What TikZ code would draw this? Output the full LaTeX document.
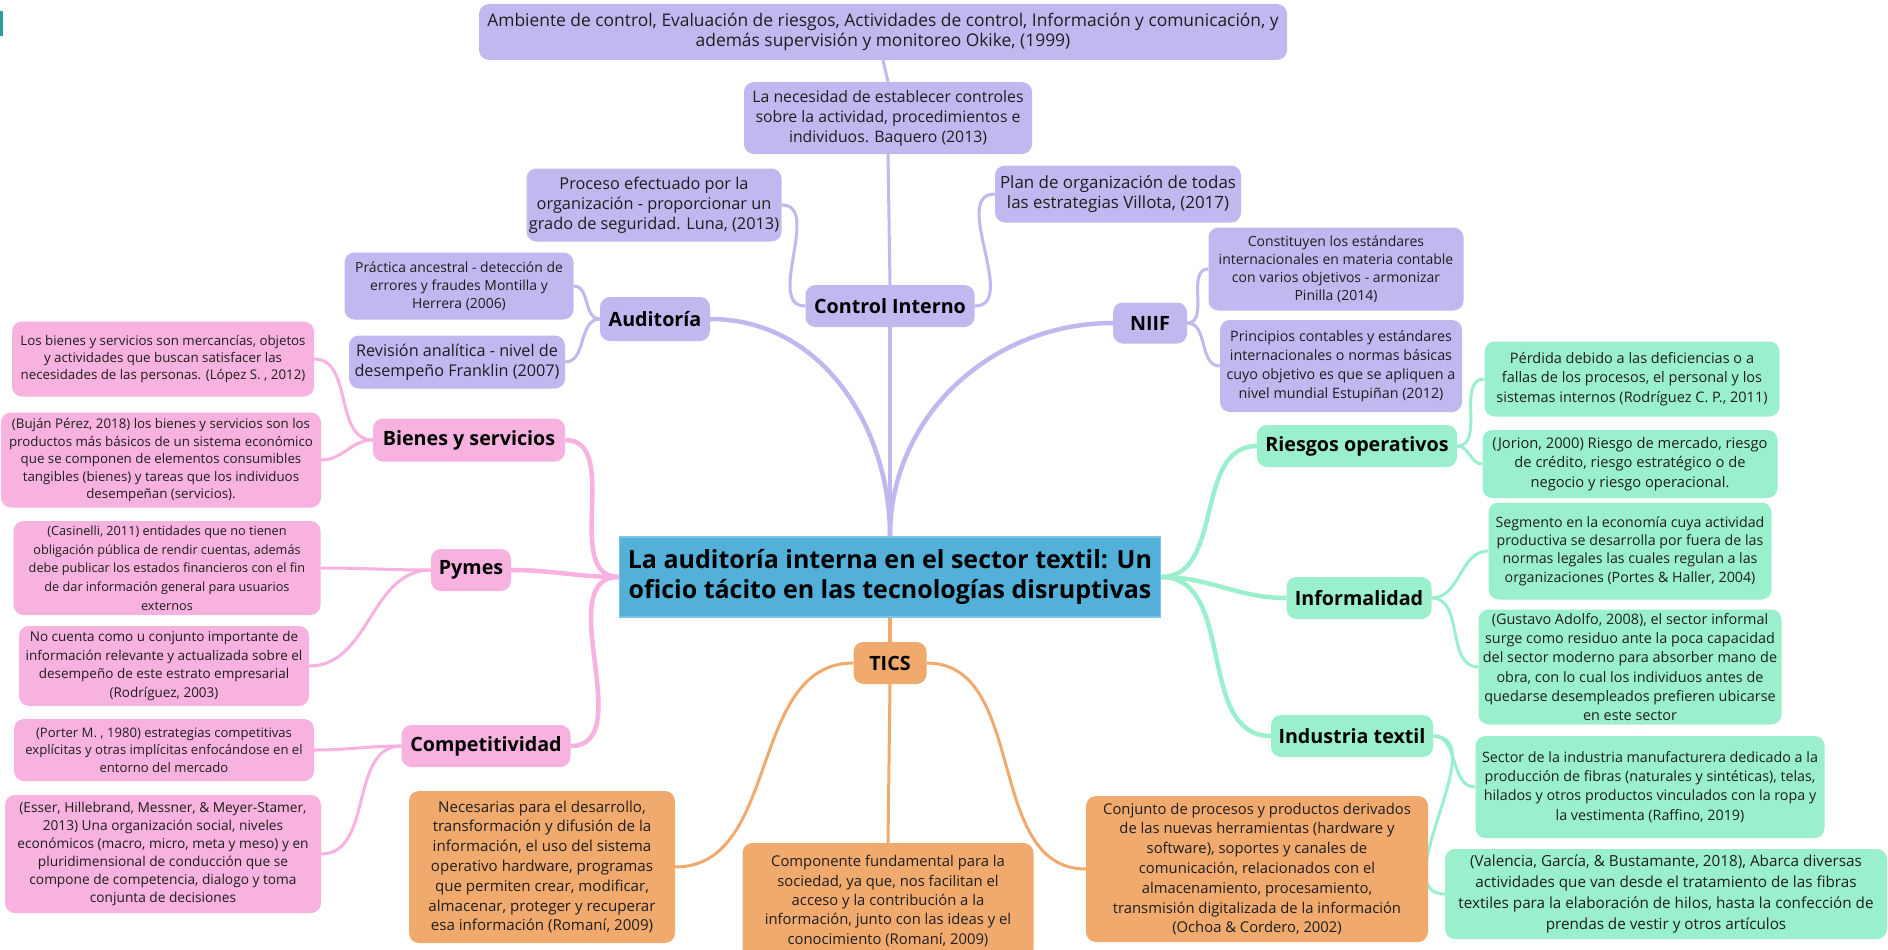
\documentclass[tikz,border=0pt]{standalone}
\usepackage{fontspec}
\setmainfont{Open Sans}
\usetikzlibrary{backgrounds}
\definecolor{pur}{HTML}{BFB9F0}
\definecolor{pnk}{HTML}{F8B2E0}
\definecolor{grn}{HTML}{9AF0CC}
\definecolor{org}{HTML}{F0AA6E}
\definecolor{blu}{HTML}{52B0D9}
\definecolor{blub}{HTML}{7CC4E6}
\definecolor{txt}{HTML}{1E1E1E}
\definecolor{tealm}{HTML}{2A9D9D}
\newcommand{\myfs}[2]{\fontsize{#1}{#2}\selectfont}
\begin{document}
\begin{tikzpicture}[x=1pt,y=-1pt,
  box/.style={rounded corners=10pt, align=center, inner sep=0pt, text=txt},
  topic/.style={box, text=black, font=\bfseries\myfs{19.7}{24}},
  pu/.style={fill=pur}, pk/.style={fill=pnk}, gr/.style={fill=grn}, og/.style={fill=org},
  mainline/.style={line width=4.5pt},
  subline/.style={line width=3pt},
]
\useasboundingbox (0,0) rectangle (1888,950);
\fill[tealm] (0,11) rectangle (2.5,36);

% central
\node[fill=blu, draw=blub, line width=1.5pt, align=center, inner sep=0pt, minimum width=541pt, minimum height=80pt, font=\bfseries\myfs{25}{30}, text=black] (central) at (890,577) {La auditoría interna en el sector textil: Un\\oficio tácito en las tecnologías disruptivas};

% purple group
\node[topic,pu,minimum width=169pt,minimum height=42pt] (ctrl) at (890,306) {Control Interno};
\node[box,pu,minimum width=808pt,minimum height=56pt,font=\myfs{17.4}{20.5}] (amb) at (883,32) {Ambiente de control, Evaluación de riesgos, Actividades de control, Información y comunicación, y\\además supervisión y monitoreo Okike, (1999)};
\node[box,pu,minimum width=288pt,minimum height=72pt,font=\myfs{15.8}{20}] (nec) at (888,118) {La necesidad de establecer controles\\sobre la actividad, procedimientos e\\individuos. Baquero (2013)};
\node[box,pu,minimum width=255pt,minimum height=73pt,font=\myfs{16.3}{20}] (proc) at (654,205) {Proceso efectuado por la\\organización - proporcionar un\\grado de seguridad. Luna, (2013)};
\node[box,pu,minimum width=246pt,minimum height=57pt,font=\myfs{16.9}{20.5}] (plan) at (1118,194) {Plan de organización de todas\\las estrategias Villota, (2017)};
\node[topic,pu,minimum width=110pt,minimum height=44pt] (aud) at (655,319) {Auditoría};
\node[box,pu,minimum width=229pt,minimum height=67pt,font=\myfs{13.9}{18}] (prac) at (459,286) {Práctica ancestral - detección de\\errores y fraudes Montilla y\\Herrera (2006)};
\node[box,pu,minimum width=216pt,minimum height=53pt,font=\myfs{16.2}{20.5}] (rev) at (457,362) {Revisión analítica - nivel de\\desempeño Franklin (2007)};
\node[topic,pu,minimum width=74pt,minimum height=41pt] (niif) at (1150,323) {NIIF};
\node[box,pu,minimum width=255pt,minimum height=83pt,font=\myfs{14}{18}] (const) at (1336,269) {Constituyen los estándares\\internacionales en materia contable\\con varios objetivos - armonizar\\Pinilla (2014)};
\node[box,pu,minimum width=242pt,minimum height=92pt,font=\myfs{14.3}{19}] (prin) at (1341,366) {Principios contables y estándares\\internacionales o normas básicas\\cuyo objetivo es que se apliquen a\\nivel mundial Estupiñan (2012)};

% pink group
\node[topic,pk,minimum width=192pt,minimum height=43pt] (bie) at (469,440) {Bienes y servicios};
\node[box,pk,minimum width=302pt,minimum height=75pt,font=\myfs{13.3}{17.5}] (lbs) at (163,359) {Los bienes y servicios son mercancías, objetos\\y actividades que buscan satisfacer las\\necesidades de las personas. (López S. , 2012)};
\node[box,pk,minimum width=320pt,minimum height=95pt,font=\myfs{13.3}{17.5}] (buj) at (161,460) {(Buján Pérez, 2018) los bienes y servicios son los\\productos más básicos de un sistema económico\\que se componen de elementos consumibles\\tangibles (bienes) y tareas que los individuos\\desempeñan (servicios).};
\node[topic,pk,minimum width=80pt,minimum height=42pt] (pym) at (471,570) {Pymes};
\node[box,pk,minimum width=307pt,minimum height=94pt,font=\myfs{12.7}{18.7}] (cas) at (167,568) {(Casinelli, 2011) entidades que no tienen\\obligación pública de rendir cuentas, además\\debe publicar los estados financieros con el fin\\de dar información general para usuarios\\externos};
\node[box,pk,minimum width=290pt,minimum height=80pt,font=\myfs{13.5}{18.7}] (noc) at (164,666) {No cuenta como u conjunto importante de\\información relevante y actualizada sobre el\\desempeño de este estrato empresarial\\(Rodríguez, 2003)};
\node[topic,pk,minimum width=169pt,minimum height=42pt] (comp) at (486,746) {Competitividad};
\node[box,pk,minimum width=300pt,minimum height=62pt,font=\myfs{13.1}{17.5}] (por) at (164,750) {(Porter M. , 1980) estrategias competitivas\\explícitas y otras implícitas enfocándose en el\\entorno del mercado};
\node[box,pk,minimum width=316pt,minimum height=118pt,font=\myfs{13.7}{18}] (ess) at (163,854) {(Esser, Hillebrand, Messner, \& Meyer-Stamer,\\2013) Una organización social, niveles\\económicos (macro, micro, meta y meso) y en\\pluridimensional de conducción que se\\compone de competencia, dialogo y toma\\conjunta de decisiones};

% orange group
\node[topic,og,minimum width=73pt,minimum height=42pt] (tics) at (890,663) {TICS};
\node[box,og,minimum width=266pt,minimum height=152pt,font=\myfs{15.1}{19.8}] (nece) at (542,867) {Necesarias para el desarrollo,\\transformación y difusión de la\\información, el uso del sistema\\operativo hardware, programas\\que permiten crear, modificar,\\almacenar, proteger y recuperar\\esa información (Romaní, 2009)};
\node[box,og,minimum width=291pt,minimum height=116pt,font=\myfs{14.8}{19.3}] (compo) at (888,901) {Componente fundamental para la\\sociedad, ya que, nos facilitan el\\acceso y la contribución a la\\información, junto con las ideas y el\\conocimiento (Romaní, 2009)};
\node[box,og,minimum width=342pt,minimum height=146pt,font=\myfs{14.8}{19.8}] (conj) at (1257,869) {Conjunto de procesos y productos derivados\\de las nuevas herramientas (hardware y\\software), soportes y canales de\\comunicación, relacionados con el\\almacenamiento, procesamiento,\\transmisión digitalizada de la información\\(Ochoa \& Cordero, 2002)};

% green group
\node[topic,gr,minimum width=200pt,minimum height=42pt] (ries) at (1357,446) {Riesgos operativos};
\node[box,gr,minimum width=295pt,minimum height=75pt,font=\myfs{14.5}{19.8}] (perd) at (1632,379) {Pérdida debido a las deficiencias o a\\fallas de los procesos, el personal y los\\sistemas internos (Rodríguez C. P., 2011)};
\node[box,gr,minimum width=295pt,minimum height=68pt,font=\myfs{14.7}{19.8}] (jor) at (1630,464) {(Jorion, 2000) Riesgo de mercado, riesgo\\de crédito, riesgo estratégico o de\\negocio y riesgo operacional.};
\node[topic,gr,minimum width=145pt,minimum height=42pt] (inf) at (1359,598) {Informalidad};
\node[box,gr,minimum width=283pt,minimum height=97pt,font=\myfs{14.2}{18.4}] (seg) at (1630,551) {Segmento en la economía cuya actividad\\productiva se desarrolla por fuera de las\\normas legales las cuales regulan a las\\organizaciones (Portes \& Haller, 2004)};
\node[box,gr,minimum width=303pt,minimum height=115pt,font=\myfs{14.4}{19.3}] (gus) at (1630,667) {(Gustavo Adolfo, 2008), el sector informal\\surge como residuo ante la poca capacidad\\del sector moderno para absorber mano de\\obra, con lo cual los individuos antes de\\quedarse desempleados prefieren ubicarse\\en este sector};
\node[topic,gr,minimum width=162pt,minimum height=42pt] (ind) at (1352,736) {Industria textil};
\node[box,gr,minimum width=349pt,minimum height=102pt,font=\myfs{14.3}{19.3}] (sec) at (1650,787) {Sector de la industria manufacturera dedicado a la\\producción de fibras (naturales y sintéticas), telas,\\hilados y otros productos vinculados con la ropa y\\la vestimenta (Raffino, 2019)};
\node[box,gr,minimum width=442pt,minimum height=90pt,font=\myfs{15.25}{21}] (val) at (1666,894) {(Valencia, García, \& Bustamante, 2018), Abarca diversas\\actividades que van desde el tratamiento de las fibras\\textiles para la elaboración de hilos, hasta la confección de\\prendas de vestir y otros artículos};

\begin{pgfonlayer}{background}
\fill[white] (0,0) rectangle (1888,950);
% purple
\draw[pur,mainline] (central.north) -- (ctrl.south);
\draw[pur,mainline] (central.north) to[out=90,in=0] (aud.east);
\draw[pur,mainline] (central.north) to[out=90,in=180] (niif.west);
\draw[pur,subline] (ctrl.north) -- (nec.south);
\draw[pur,subline] (nec.north) -- (amb.south);
\draw[pur,subline] (ctrl.west) to[out=180,in=0] (proc.east);
\draw[pur,subline] (ctrl.east) to[out=0,in=180] (plan.west);
\draw[pur,subline] (aud.west) to[out=180,in=0] (prac.east);
\draw[pur,subline] (aud.west) to[out=180,in=0] (rev.east);
\draw[pur,subline] (niif.east) to[out=0,in=180] (const.west);
\draw[pur,subline] (niif.east) to[out=0,in=180] (prin.west);
% pink
\draw[pnk,mainline] (central.west) to[out=180,in=0] (bie.east);
\draw[pnk,mainline] (central.west) to[out=180,in=0] (pym.east);
\draw[pnk,mainline] (central.west) to[out=180,in=0] (comp.east);
\draw[pnk,subline] (bie.west) to[out=180,in=0] (lbs.east);
\draw[pnk,subline] (bie.west) to[out=180,in=0] (buj.east);
\draw[pnk,subline] (pym.west) to[out=180,in=0] (cas.east);
\draw[pnk,subline] (pym.west) to[out=180,in=0] (noc.east);
\draw[pnk,subline] (comp.west) to[out=180,in=0] (por.east);
\draw[pnk,subline] (comp.west) to[out=180,in=0] (ess.east);
% green
\draw[grn,mainline] (central.east) to[out=0,in=180] (ries.west);
\draw[grn,mainline] (central.east) to[out=0,in=180] (inf.west);
\draw[grn,mainline] (central.east) to[out=0,in=180] (ind.west);
\draw[grn,subline] (ries.east) to[out=0,in=180] (perd.west);
\draw[grn,subline] (ries.east) to[out=0,in=180] (jor.west);
\draw[grn,subline] (inf.east) to[out=0,in=180] (seg.west);
\draw[grn,subline] (inf.east) to[out=0,in=180] (gus.west);
\draw[grn,subline] (ind.east) to[out=0,in=180] (sec.west);
\draw[grn,subline] (ind.east) to[out=0,in=180] (val.west);
% orange
\draw[org,mainline] (central.south) -- (tics.north);
\draw[org,subline] (tics.west) to[out=180,in=0] (nece.east);
\draw[org,subline] (tics.south) -- (compo.north);
\draw[org,subline] (tics.east) to[out=0,in=180] (conj.west);
\end{pgfonlayer}
\end{tikzpicture}
\end{document}
